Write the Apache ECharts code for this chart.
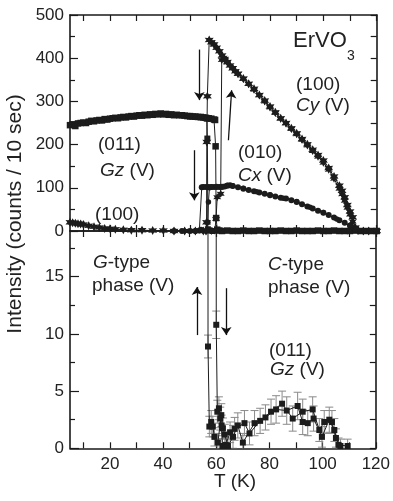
<!DOCTYPE html>
<html><head><meta charset="utf-8">
<script src="https://cdn.jsdelivr.net/npm/echarts@6/dist/echarts.min.js"></script>
<style>html,body{margin:0;padding:0;background:#fff}#c{width:393px;height:501px}</style>
</head><body><div id="c"></div>
<script>
// ---------- data ----------
// top panel: (011) Gz, heating branch
const gzTopT = [5,6,7,8,9,10,11,12,13,14,15,16,17,18,19,20,21,22,23,24,25,26,27,28,29,30,31,32,33,34,35,36,37,38,39,40,41,42,43,44,45,46,47,48,49,50,51,52,53,54,55,56,57,58,59,59.4,59.6,59.8,60.2,61,62,64,66,68,70,72,74,76,78,80,82,84,86,88,90,92,94,96,98,100,102,104,106,108,110,112,114,116,118,120];
const gzTopV = [245,247,243,249,250,251,250,253,255,254,256,257,256,259,258,260,261,262,261,263,264,263,265,266,265,267,268,267,269,268,270,269,271,270,272,270,271,269,270,268,269,268,268,267,266,266,265,265,264,264,263,262,261,260,258,257,196,30,3,1,0,1,0,0,1,0,0,1,0,0,0,1,0,0,1,0,0,0,1,0,0,1,0,0,0,1,0,0,0,0];
// top panel: (011) Gz, cooling branch near the transition
const gzCoolTopT = [50,52,54,55.5,56.3,56.5,56.7,57.5,58.5];
const gzCoolTopV = [265,264,263,262,260,214,4,1,0];
// top panel: (100) Cy, cooling
const cyCoolT = [5,6,7,8,9,10,12,14,16,18,20,22,25,28,32,36,40,44,48,52,55,56,56.2,56.3,56.5,57.2,58,59,60,61,62,63,64,65,66,67,68,70,72,74,76,78,80,82,84,86,88,90,92,94,96,98,100,102,104,106,107,108,109,110,111,112,113,115,117,120];
const cyCoolV = [20,19,18,17,16,15,12,10,8,6,5,4,3,2,2,1,1,0,0,0,0,0,20,206,312,442,437,432,424,416,406,398,391,383,377,370,364,353,341,329,315,302,288,275,261,250,238,226,213,201,188,176,163,146,126,105,93,78,60,45,32,8,1,0,0,0];
// top panel: (100) Cy, heating
const cyHeatT = [44,48,52,56,58,59.3,59.75,60.2,61.5,61.9,62.6,63.2,64,66,68,70,72,74,76,78,80,82,84,86,88,90,92,94,96,98,100,102,104,106,107,108,109,110,111,112,113,115,117,120];
const cyHeatV = [0,0,0,0,0,1,28,78,86,396,401,395,390,377,364,352,340,327,314,300,286,273,260,249,236,224,211,198,185,172,158,142,121,98,85,70,54,38,22,6,1,0,0,0];
// top panel: (010) Cx, cooling
const cxCoolT = [44,47,50,52,53.5,54.1,54.4,55,56,57,58,59,60,61,62,63,64,65,66,68,70,72,74,76,78,80,82,84,86,88,90,92,94,96,98,100,102,104,106,108,110,111,112,113,115,118,120];
const cxCoolV = [0,0,0,0,1,3,101,102,102,102,102,102,102,102,102,103,105,106,104,101,98,95,92,89,86,83,80,77,75,71,67,62,57,52,47,42,37,31,25,19,13,8,4,1,0,0,0];
// top panel: (010) Cx, heating
const cxHeatT = [52,55,56.2,56.7,56.9,57.3,58,60,62,64,66,70,75,80,85,90,95,100,105,110,112,114];
const cxHeatV = [0,0,1,20,67,100,102,103,103,106,105,99,91,84,76,68,55,43,28,12,3,0];
// bottom panel: (011) Gz enlarged, cooling
const gzBotCoolT = [56.6,56.9,57.4,58.1,58.7,59.3,60.6,61.9,62.5,63.2,64.4,66.3,68.1,70,74.4,78.5,82.5,86.5,90.6,92.5,94.4,96.6,99.75,102.5,104.4,106,109.4];
const gzBotCoolV = [262,8.9,1.9,2.3,1.9,1.0,0.5,2.9,1.75,1.2,0.2,1.0,2.0,0.5,2.2,2.7,3.4,3.3,3.7,2.3,2.2,2.6,1.0,2.5,1.6,0.3,0.2];
const gzBotCoolE = [0,1.0,0.9,1.0,0.9,0.8,0.8,1.0,0.9,0.9,0.6,1.0,1.1,0.8,1.1,1.1,1.2,1.2,1.2,1.1,1.1,1.1,0.9,1.1,1.0,0.6,0.6];
// bottom panel: (011) Gz enlarged, heating
const gzBotHeatT = [59.6,60,60.4,61,61.5,62,62.3,63.6,65.2,66.9,70.6,72.5,76.5,80.6,84.75,88.75,92.5,96.25,98.75,100.6,103.5,105,106.7];
const gzBotHeatV = [262,10.8,3.2,3.5,2.6,2.0,0.2,0.3,1.4,1.7,2.2,1.3,2.4,3.2,3.9,2.6,3.2,3.4,1.6,2.3,2.3,0.9,0.2];
const gzBotHeatE = [0,1.2,1.0,1.0,1.0,0.9,0.6,0.6,0.9,1.0,1.1,1.0,1.1,1.1,1.1,1.1,1.1,1.1,1.0,1.0,1.0,0.8,0.6];

// ticks
const xTickVals = [10,20,30,40,50,60,70,80,90,100,110,120];
const xLabelVals = [20,40,60,80,100,120];
const yTopLabels = [0,100,200,300,400,500];
const yTopMinor = [50,150,250,350,450];
const yTopRight = [0,50,100,150,200,250,300,350,400,450,500];
const yBotLabels = [0,5,10,15];
const yBotMinor = [2.5,7.5,12.5,17.5];
const yBotRight = [0,2.5,5,7.5,10,12.5,15,17.5];

// ---------- chart ----------
const FONT = 'Liberation Sans';
const AX = '#1a1a1a';
const INK = '#1c1c1c';
const zip = (t, v) => t.map((x, i) => [x, v[i]]);
const zipErr = (t, v, e) => t.map((x, i) => [x, v[i] - e[i], v[i] + e[i]]);
const STAR = 'path://M0,-10L2.6,-4.5L8.7,-5L5.2,0L8.7,5L2.6,4.5L0,10L-2.6,4.5L-8.7,5L-5.2,0L-8.7,-5L-2.6,-4.5Z';

function xAx(grid, pos, labels) {
  return {gridIndex: grid, type: 'value', min: 5, max: 120, position: pos,
    axisLine: {show: true, onZero: false, lineStyle: {color: AX, width: 1.6}},
    axisTick: {show: true, inside: true, length: 6, customValues: xTickVals, lineStyle: {color: AX, width: 1.2}},
    axisLabel: {show: labels, customValues: xLabelVals, color: '#222', fontSize: 17, fontFamily: FONT, margin: 8},
    splitLine: {show: false}};
}
function yAx(grid, pos, min, max, ticks, len, labels, line) {
  return {gridIndex: grid, type: 'value', min: min, max: max, position: pos, offset: 0,
    axisLine: {show: line, onZero: false, lineStyle: {color: AX, width: 1.6}},
    axisTick: {show: true, inside: true, length: len, customValues: ticks, lineStyle: {color: AX, width: 1.2}},
    axisLabel: labels ? {show: true, customValues: labels, color: '#222', fontSize: 17, fontFamily: FONT, margin: 6} : {show: false},
    splitLine: {show: false}};
}
function lineS(name, xi, yi, data, symbol, size) {
  return {name: name, type: 'line', xAxisIndex: xi, yAxisIndex: yi, data: data,
    symbol: symbol, symbolSize: size, showSymbol: true, clip: true,
    lineStyle: {color: INK, width: 1}, itemStyle: {color: INK}, z: 5};
}
function errS(xi, yi, rows) {
  return {type: 'custom', xAxisIndex: xi, yAxisIndex: yi, data: rows, clip: true, z: 3,
    encode: {x: 0, y: [1, 2]},
    renderItem: function (params, api) {
      const x = api.value(0), lo = api.value(1), hi = api.value(2);
      if (!(hi > lo)) return null;
      const p1 = api.coord([x, lo]), p2 = api.coord([x, hi]);
      const w = 4, st = {stroke: '#8a8a8a', lineWidth: 1};
      return {type: 'group', children: [
        {type: 'line', shape: {x1: p1[0], y1: p1[1], x2: p2[0], y2: p2[1]}, style: st},
        {type: 'line', shape: {x1: p1[0] - w, y1: p1[1], x2: p1[0] + w, y2: p1[1]}, style: st},
        {type: 'line', shape: {x1: p2[0] - w, y1: p2[1], x2: p2[0] + w, y2: p2[1]}, style: st}]};
    }};
}
function txt(x, y, text, size, align) {
  return {type: 'text', x: x, y: y, z: 100,
    style: {text: text, fontSize: size, fontFamily: FONT, fill: '#222', align: align || 'left', verticalAlign: 'top',
      rich: {i: {fontStyle: 'italic', fontSize: size, fontFamily: FONT, fill: '#222'}}}};
}
const arrowML = (pairs) => ({silent: true, symbol: ['none', 'arrow'], symbolSize: 8, animation: false,
  lineStyle: {color: '#111', width: 1.3, type: 'solid'}, label: {show: false}, emphasis: {disabled: true},
  data: pairs.map(p => [{coord: p[0]}, {coord: p[1]}])});

const topSeries = [
  lineS('Gz heat', 0, 0, zip(gzTopT, gzTopV), 'rect', 6.5),
  lineS('Gz cool', 0, 0, zip(gzCoolTopT, gzCoolTopV), 'rect', 6),
  lineS('Cy cool', 0, 0, zip(cyCoolT, cyCoolV), STAR, 9),
  lineS('Cy heat', 0, 0, zip(cyHeatT, cyHeatV), STAR, 8),
  lineS('Cx cool', 0, 0, zip(cxCoolT, cxCoolV), 'circle', 6),
  lineS('Cx heat', 0, 0, zip(cxHeatT, cxHeatV), 'circle', 5.5)
];
topSeries[4].markLine = arrowML([[[53.5, 420], [53.5, 303]], [[64.4, 210], [65.6, 326]], [[51.6, 187], [51.6, 71]]]);

const botSeries = [
  errS(2, 3, zipErr(gzBotCoolT, gzBotCoolV, gzBotCoolE)),
  errS(2, 3, zipErr(gzBotHeatT, gzBotHeatV, gzBotHeatE)),
  lineS('Gz bot cool', 2, 3, zip(gzBotCoolT, gzBotCoolV), 'rect', 6),
  lineS('Gz bot heat', 2, 3, zip(gzBotHeatT, gzBotHeatV), 'rect', 6)
];
botSeries[2].markLine = arrowML([[[52.75, 9.9], [52.75, 14.1]], [[63.75, 14.0], [63.75, 9.9]]]);

const option = {
  animation: false,
  backgroundColor: '#fff',
  grid: [
    {left: 70, right: 16.3, top: 15, height: 216},
    {left: 70, right: 16.3, top: 231, height: 217.3}
  ],
  xAxis: [xAx(0, 'bottom', false), xAx(0, 'top', false), xAx(1, 'bottom', true), xAx(1, 'top', false)],
  yAxis: [
    yAx(0, 'left', 0, 500, yTopLabels, 8, yTopLabels, true),
    yAx(0, 'left', 0, 500, yTopMinor, 5, null, false),
    yAx(0, 'right', 0, 500, yTopRight, 6, null, true),
    yAx(1, 'left', 0, 19, yBotLabels, 9, yBotLabels, true),
    yAx(1, 'left', 0, 19, yBotMinor, 5, null, false),
    yAx(1, 'right', 0, 19, yBotRight, 6, null, true)
  ],
  series: topSeries.concat(botSeries),
  graphic: [
    {type: 'text', x: 15, y: 214, rotation: Math.PI / 2, z: 100,
      style: {text: 'Intensity (counts / 10 sec)', fontSize: 21, fontFamily: FONT, fill: '#222', align: 'center', verticalAlign: 'middle'}},
    txt(235, 472, 'T (K)', 19, 'center'),
    txt(293, 30, 'ErVO', 22),
    txt(347, 49, '3', 14),
    txt(296, 75, '(100)', 19),
    txt(296, 96, '{i|Cy} (V)', 19),
    txt(238, 143, '(010)', 19),
    txt(238, 166, '{i|Cx} (V)', 19),
    txt(98, 135, '(011)', 19),
    txt(100, 161, '{i|Gz} (V)', 19),
    txt(95, 205, '(100)', 19),
    txt(93, 253, '{i|G}-type', 19),
    txt(92, 276, 'phase (V)', 19),
    txt(268, 255, '{i|C}-type', 19),
    txt(268, 278, 'phase (V)', 19),
    txt(269, 341, '(011)', 19),
    txt(270, 360, '{i|Gz} (V)', 19)
  ]
};
const chart = echarts.init(document.getElementById('c'), null, {renderer: 'canvas'});
chart.setOption(option);
</script></body></html>
